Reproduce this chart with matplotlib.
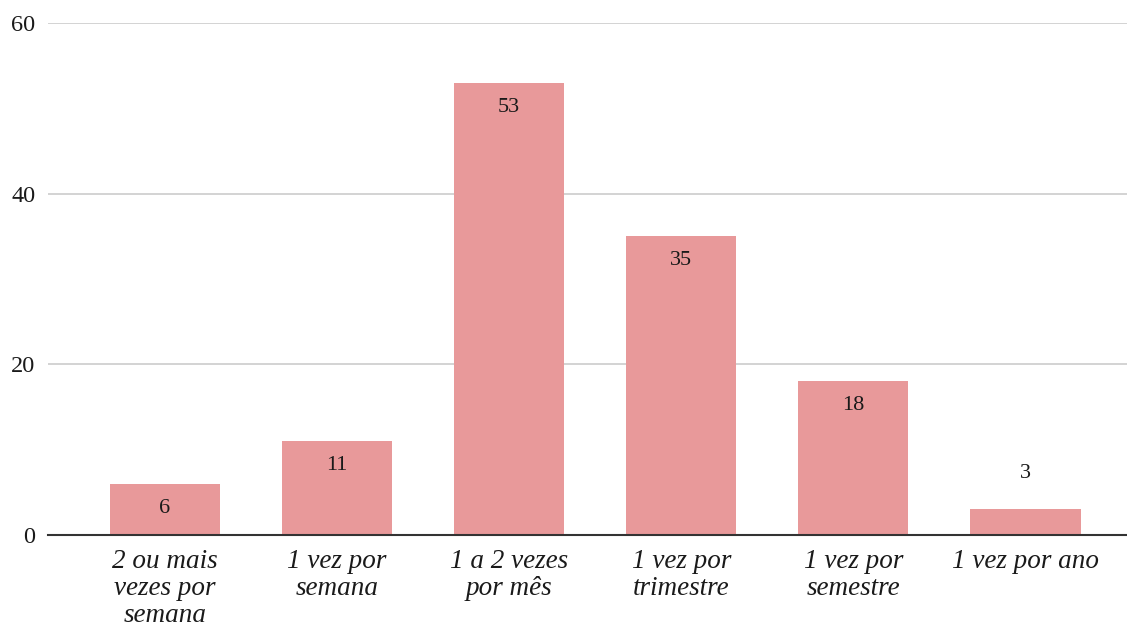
import matplotlib.pyplot as plt
import matplotlib as mpl
import numpy as np

categories = ['2 ou mais\nvezes por\nsemana', '1 vez por\nsemana', '1 a 2 vezes\npor mês',
              '1 vez por\ntrimestre', '1 vez por\nsemestre', '1 vez por ano']
values = [6, 11, 53, 35, 18, 3]

mpl.rcParams['font.family'] = ['Liberation Serif', 'DejaVu Serif']

fig = plt.figure(figsize=(11.27, 6.29), dpi=100)
axes = fig.add_axes([48 / 1127, 1 - 535 / 629, 1 - 48 / 1127, (535 - 23) / 629])

x = np.arange(len(categories))
bars = axes.bar(x, values, width=0.64, color='#e8999a', zorder=2)

# value labels: inside the bar near its top, above it when the bar is too short
for xi, v in zip(x, values):
    if v >= 5:
        axes.annotate(str(v), (xi, v), xytext=(0, -17.5), textcoords='offset points',
                      ha='center', va='center', fontsize=16, color='#1a1a1a')
    else:
        axes.annotate(str(v), (xi, v), xytext=(0, 25.5), textcoords='offset points',
                      ha='center', va='center', fontsize=16, color='#1a1a1a')

axes.set_xlim(-0.68, 5.59)
axes.set_ylim(0, 60)
axes.set_yticks([0, 20, 40, 60])
axes.set_xticks(x)
axes.set_xticklabels(categories, fontstyle='italic', fontsize=19.5, linespacing=1.1,
                     color='#1a1a1a')
axes.tick_params(axis='y', labelsize=17.5, length=0, pad=9, labelcolor='#1a1a1a')
axes.tick_params(axis='x', length=0, pad=10)

axes.grid(axis='y', color='#cccccc', linewidth=1.2, zorder=0)
for side in ['top', 'right', 'left']:
    axes.spines[side].set_visible(False)
axes.spines['bottom'].set_color('#333333')
axes.spines['bottom'].set_linewidth(1.5)
axes.spines['bottom'].set_zorder(3)

plt.savefig('out.png', dpi=100)
